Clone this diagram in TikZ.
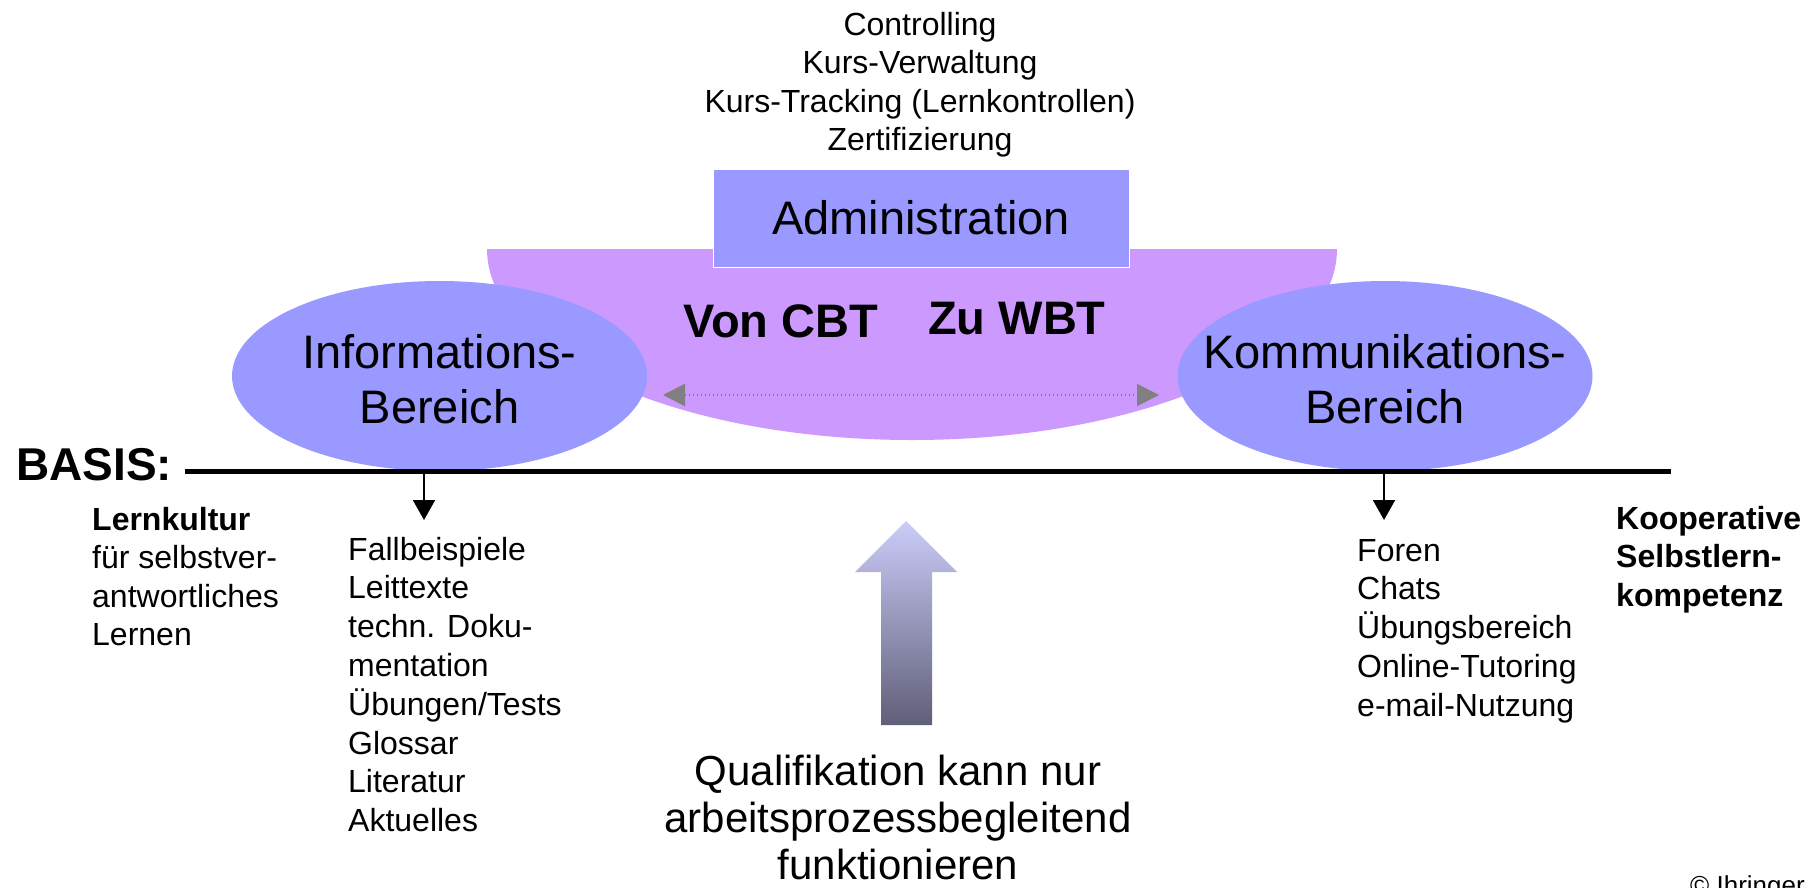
\documentclass[tikz,border=0pt]{standalone}
\usepackage{fontspec}
\setmainfont{Liberation Sans}
\usetikzlibrary{shapes.geometric,arrows.meta}
\definecolor{boxblue}{RGB}{153,153,255}
\definecolor{purp}{RGB}{204,153,255}
\definecolor{agray}{RGB}{128,128,128}
\definecolor{arrtop}{RGB}{204,204,250}
\definecolor{arrbot}{RGB}{95,95,120}
\newcommand{\cstack}[1]{\vtop{\halign{\hfil##\hfil\cr#1\crcr}}}
\newcommand{\lstack}[1]{\vtop{\halign{##\hfil\cr#1\crcr}}}
\begin{document}
\begin{tikzpicture}[x=1pt,y=1pt,
  txt/.style={inner sep=0pt},
  bigfont/.style={font=\fontsize{47}{55}\selectfont},
  bigbold/.style={font=\fontsize{47}{55}\selectfont\bfseries},
  ell/.style={ellipse, fill=boxblue, minimum width=415pt, minimum height=190pt, inner sep=0pt},
  downarrow/.style={line width=2pt, -{Triangle[length=20pt,width=22pt]}},
  dotarrow/.style={agray, line width=2pt, dash pattern=on 1.5pt off 2.5pt,
    {Triangle[length=22pt,width=22pt]}-{Triangle[length=22pt,width=22pt]}}
]
\useasboundingbox (0,0) rectangle (1811,-887);
\fill[white] (0,0) rectangle (1811,-887);

% top text
\node[txt, anchor=base, font=\fontsize{32}{38.5}\selectfont] (toptext) at (920,-35)
  {\cstack{Controlling\cr Kurs-Verwaltung\cr Kurs-Tracking (Lernkontrollen)\cr Zertifizierung}};

% purple half ellipse
\fill[purp] (487,-249) -- (1337,-249) arc[start angle=0, end angle=-180, x radius=425, y radius=191] -- cycle;

% administration box
\node[rectangle, fill=boxblue, draw=white, line width=1pt, minimum width=416pt, minimum height=98pt,
  inner sep=0pt, bigfont] (admin) at (921,-218) {Administration};

% Von CBT / Zu WBT
\node[txt, anchor=base west, bigbold] (von) at (683,-337) {Von CBT};
\node[txt, anchor=base west, bigbold] (zu) at (928,-334) {Zu WBT};

% dotted double arrow
\coordinate (dl) at (663,-395);
\coordinate (dr) at (1159,-395);
\draw[dotarrow] (dl) -- (dr);

% ellipses
\node[ell] (info) at (439.5,-376) {};
\node[ell] (komm) at (1385,-376) {};
\node[txt, anchor=base, bigfont] (infotxt) at (439.5,-368.5) {\cstack{Informations-\cr Bereich}};
\node[txt, anchor=base, bigfont] (kommtxt) at (1385,-368.5) {\cstack{Kommunikations-\cr Bereich}};

% basis line
\node[txt, anchor=base west, font=\fontsize{46}{56}\selectfont\bfseries] (basis) at (16,-480) {BASIS:};
\coordinate (l0) at (185,-471);
\coordinate (l1) at (1671,-471);
\draw[line width=5pt] (l0) -- (l1);

% down arrows
\coordinate (a1s) at (424,-473);
\coordinate (a1e) at (424,-520);
\draw[downarrow] (a1s) -- (a1e);
\coordinate (a2s) at (1384,-473);
\coordinate (a2e) at (1384,-520);
\draw[downarrow] (a2s) -- (a2e);

% left texts
\node[txt, anchor=base west, font=\fontsize{32}{38.5}\selectfont] (lern) at (92,-530)
  {\lstack{\textbf{Lernkultur}\cr für selbstver-\cr antwortliches\cr Lernen}};
\node[txt, anchor=base west, font=\fontsize{32}{38.8}\selectfont] (infolist) at (348,-560)
  {\lstack{Fallbeispiele\cr Leittexte\cr techn. Doku-\cr mentation\cr Übungen/Tests\cr Glossar\cr Literatur\cr Aktuelles}};

% right texts
\node[txt, anchor=base west, font=\fontsize{32}{38.8}\selectfont] (kommlist) at (1357,-561)
  {\lstack{Foren\cr Chats\cr Übungsbereich\cr Online-Tutoring\cr e-mail-Nutzung}};
\node[txt, anchor=base west, font=\fontsize{32}{38.5}\selectfont\bfseries] (koop) at (1616,-529)
  {\lstack{Kooperative\cr Selbstlern-\cr kompetenz}};

% big gradient arrow
\shade[top color=arrtop, bottom color=arrbot]
  (881,-725) -- (881,-572) -- (855,-572) -- (906,-521) -- (957,-572) -- (932,-572) -- (932,-725) -- cycle;

% bottom text
\node[txt, anchor=base, font=\fontsize{42}{47}\selectfont] (qual) at (898,-785)
  {\cstack{Qualifikation kann nur\cr arbeitsprozessbegleitend\cr funktionieren}};

% copyright
\node[txt, anchor=base west, font=\fontsize{26}{30}\selectfont] (copy) at (1690,-894) {© Ihringer};
\end{tikzpicture}
\end{document}
